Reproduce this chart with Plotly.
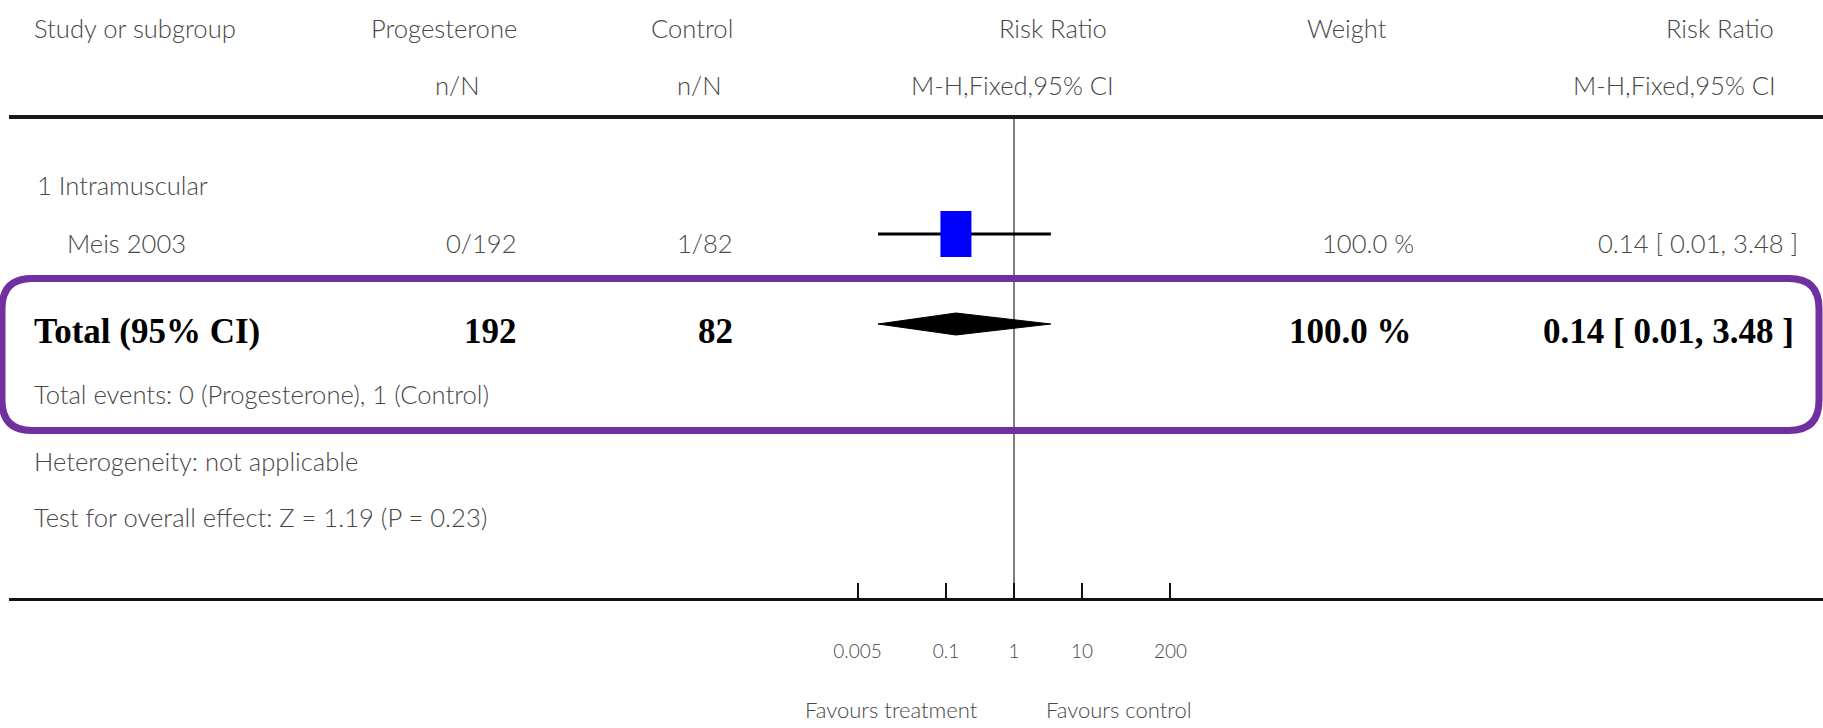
import math
import plotly.graph_objects as go

W, H = 1823, 728

# ---------------- data ----------------
subgroup_label = "1 Intramuscular"
studies = ["Meis 2003"]
prog_events = [0]
prog_total = [192]
ctrl_events = [1]
ctrl_total = [82]
rr = [0.14]
rr_lo = [0.01]
rr_hi = [3.48]
weights = [100.0]
total_rr = 0.14
total_lo = 0.01
total_hi = 3.48
tick_vals = [0.005, 0.1, 1, 10, 200]
tick_text = ["0.005", "0.1", "1", "10", "200"]
heterogeneity = "not applicable"
z_value = 1.19
p_value = 0.23

# ---------------- styling / layout ----------------
LIGHT = "Lato, Liberation Sans, Arial, sans-serif"
LW = 300
SERIF = "Liberation Serif, Times New Roman, serif"
GREY = "#474747"
F = 25.6
FB = 35
PURPLE = "#7030a0"

Y_H1, Y_H2 = 28, 85
TOP_LINE = 117
Y_SUB = 185
Y_STUDY_TXT = [243]
Y_STUDY_MARK = [234]
Y_TOTAL_TXT = 331
Y_TOTAL_MARK = 324
Y_EVENTS = 394
Y_HET = 461
Y_TEST = 517
AXIS_Y = 599
Y_FAV = 709

X_RANGE = [-14.778, 11.897]
X_DOMAIN = [0.005, 1]


def px(x):
    return x / W


annotations = []


def txt(x, y, s, anchor="left", font=LIGHT, size=F, color=GREY, weight=LW):
    annotations.append(dict(
        x=px(x), xref="paper", y=y, yref="y", text=s, showarrow=False,
        xanchor=anchor, yanchor="middle",
        font=dict(family=font, size=size, color=color, weight=weight)))


# headers
txt(32, Y_H1, "Study or subgroup")
txt(519, Y_H1, "Progesterone", "right")
txt(482, Y_H2, "n/N", "right")
txt(735, Y_H1, "Control", "right")
txt(724, Y_H2, "n/N", "right")
txt(1053, Y_H1, "Risk Ratio", "center")
txt(1013, Y_H2, "M-H,Fixed,95% CI", "center")
txt(1347, Y_H1, "Weight", "center")
txt(1776, Y_H1, "Risk Ratio", "right")
txt(1778, Y_H2, "M-H,Fixed,95% CI", "right")

# subgroup + studies
txt(35, Y_SUB, subgroup_label)
for i, name in enumerate(studies):
    y = Y_STUDY_TXT[i]
    txt(65, y, name)
    txt(519, y, f"{prog_events[i]}/{prog_total[i]}", "right")
    txt(735, y, f"{ctrl_events[i]}/{ctrl_total[i]}", "right")
    txt(1416, y, f"{weights[i]:.1f} %", "right")
    txt(1800, y, f"{rr[i]:.2f} [ {rr_lo[i]:.2f}, {rr_hi[i]:.2f} ]", "right")

# total row
BOLD = dict(font=SERIF, size=FB, color="#000", weight=700)
txt(32, Y_TOTAL_TXT, "Total (95% CI)", **BOLD)
txt(519, Y_TOTAL_TXT, f"{sum(prog_total)}", "right", **BOLD)
txt(735, Y_TOTAL_TXT, f"{sum(ctrl_total)}", "right", **BOLD)
txt(1414, Y_TOTAL_TXT, f"{sum(weights):.1f} %", "right", **BOLD)
txt(1796, Y_TOTAL_TXT, f"{total_rr:.2f} [ {total_lo:.2f}, {total_hi:.2f} ]", "right", **BOLD)

txt(32, Y_EVENTS, f"Total events: {sum(prog_events)} (Progesterone), {sum(ctrl_events)} (Control)")
txt(32, Y_HET, f"Heterogeneity: {heterogeneity}")
txt(32, Y_TEST, f"Test for overall effect: Z = {z_value:.2f} (P = {p_value:.2f})")

txt(980, Y_FAV, "Favours treatment", "right", size=22)
txt(1044, Y_FAV, "Favours control", "left", size=22)

fig = go.Figure()

# study CI lines
for i in range(len(studies)):
    fig.add_trace(go.Scatter(
        x=[rr_lo[i], rr_hi[i]], y=[Y_STUDY_MARK[i]] * 2, mode="lines",
        line=dict(color="#000", width=3), hoverinfo="skip", showlegend=False))

# total diamond
DH = 11
fig.add_trace(go.Scatter(
    x=[total_lo, total_rr, total_hi, total_rr, total_lo],
    y=[Y_TOTAL_MARK, Y_TOTAL_MARK - DH, Y_TOTAL_MARK, Y_TOTAL_MARK + DH, Y_TOTAL_MARK],
    mode="lines", fill="toself", fillcolor="#000",
    line=dict(color="#000", width=1), hoverinfo="skip", showlegend=False))

shapes = []
# null line
shapes.append(dict(type="line", xref="x", yref="y", x0=1, x1=1, y0=TOP_LINE, y1=AXIS_Y,
                   line=dict(color="#555", width=1.5), layer="below"))
# top rule
shapes.append(dict(type="line", xref="paper", yref="y", x0=px(9), x1=1, y0=TOP_LINE, y1=TOP_LINE,
                   line=dict(color="#1a1a1a", width=4)))
# study squares (pixel-sized, anchored on a linear overlay axis in log10 units)
for i in range(len(studies)):
    shapes.append(dict(type="rect", xref="x2", yref="y", xsizemode="pixel",
                       xanchor=math.log10(rr[i]),
                       x0=-15.5, x1=15.5, y0=Y_STUDY_MARK[i] - 23, y1=Y_STUDY_MARK[i] + 23,
                       fillcolor="#0000ff", line=dict(width=0)))

# purple rounded highlight box
x0, x1, y0, y1 = px(2), px(1819), 278.5, 430.5
rx, ry = px(30), 30
path = (f"M {x0+rx},{y0} L {x1-rx},{y0} Q {x1},{y0} {x1},{y0+ry} "
        f"L {x1},{y1-ry} Q {x1},{y1} {x1-rx},{y1} L {x0+rx},{y1} "
        f"Q {x0},{y1} {x0},{y1-ry} L {x0},{y0+ry} Q {x0},{y0} {x0+rx},{y0} Z")
shapes.append(dict(type="path", xref="paper", yref="y", path=path,
                   line=dict(color=PURPLE, width=7)))

fig.update_layout(
    width=W, height=H,
    margin=dict(l=0, r=0, t=0, b=0),
    paper_bgcolor="white", plot_bgcolor="white",
    showlegend=False,
    annotations=annotations,
    shapes=shapes,
    xaxis=dict(
        type="log", range=X_RANGE, domain=X_DOMAIN,
        anchor="free", position=(H - AXIS_Y) / H,
        showline=True, linecolor="#111", linewidth=3,
        ticks="inside", ticklen=15, tickwidth=2, tickcolor="#111",
        tickvals=tick_vals, ticktext=tick_text,
        tickfont=dict(family=LIGHT, size=19, color=GREY, weight=LW),
        ticklabelstandoff=34,
        showgrid=False, zeroline=False, fixedrange=True),
    xaxis2=dict(
        type="linear", range=X_RANGE, domain=X_DOMAIN, overlaying="x",
        anchor="y", visible=False, fixedrange=True),
    yaxis=dict(range=[H, 0], domain=[0, 1], visible=False, fixedrange=True),
)

fig.write_html("out.html", config={"displayModeBar": False},
               post_script="document.body.style.margin='0';document.body.style.overflow='hidden';")
